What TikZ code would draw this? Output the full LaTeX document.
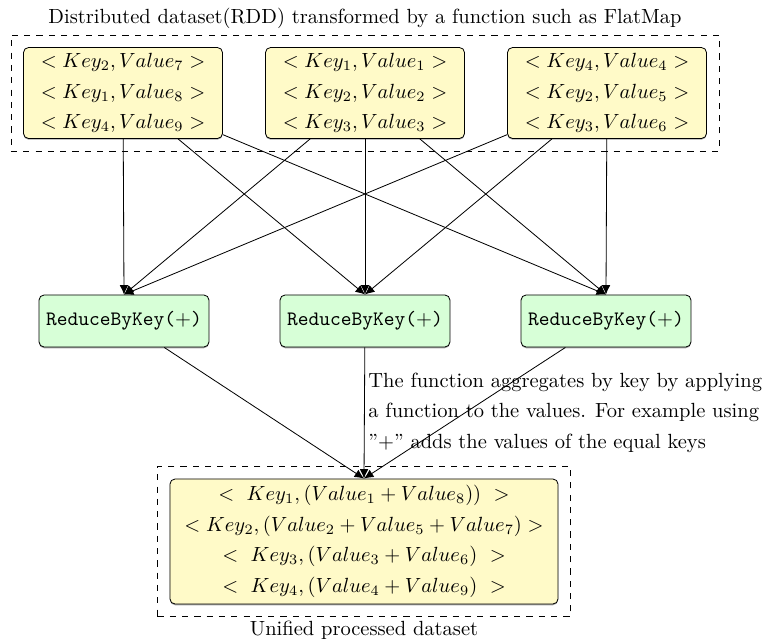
\documentclass[tikz,border=0pt]{standalone}
\usetikzlibrary{arrows.meta,fit,shadows}
\definecolor{pairfill}{RGB}{255,250,200}
\definecolor{reducefill}{RGB}{215,255,215}

\begin{document}
\begin{tikzpicture}[x=0.4878pt,y=-0.4878pt,
  pairbox/.style={draw, rounded corners=2.5pt, fill=pairfill, align=center,
    minimum width=97.1pt, minimum height=44.4pt, inner sep=2pt,
    drop shadow={shadow xshift=0pt, shadow yshift=-0.6pt, opacity=0.35, fill=black}},
  reducebox/.style={draw, rounded corners=2.5pt, fill=reducefill,
    minimum width=82.9pt, minimum height=25.4pt, inner sep=2pt,
    drop shadow={shadow xshift=0pt, shadow yshift=-0.6pt, opacity=0.35, fill=black}},
  groupbox/.style={draw, dashed, inner sep=5.9pt},
  flow/.style={-{Latex[length=4.6pt,width=4.2pt]}},
]
\useasboundingbox (0,0) rectangle (768,643);

% key/value pairs produced by the transformation
\node[pairbox] (p1) at (123,93)
  {$<Key_2,Value_7>$\\[2.9pt]$<Key_1,Value_8>$\\[2.9pt]$<Key_4,Value_9>$};
\node[pairbox] (p2) at (365,93)
  {$<Key_1,Value_1>$\\[2.9pt]$<Key_2,Value_2>$\\[2.9pt]$<Key_3,Value_3>$};
\node[pairbox] (p3) at (607,93)
  {$<Key_4,Value_4>$\\[2.9pt]$<Key_2,Value_5>$\\[2.9pt]$<Key_3,Value_6>$};
\node[groupbox, fit=(p1)(p2)(p3)] (src) {};
\node (title) at (365,18) {Distributed dataset(RDD) transformed by a function such as FlatMap};

% reducers
\node[reducebox] (r1) at (124,321) {\texttt{ReduceByKey($+$)}};
\node[reducebox] (r2) at (365,321) {\texttt{ReduceByKey($+$)}};
\node[reducebox] (r3) at (606,321) {\texttt{ReduceByKey($+$)}};

% merged result
\node[pairbox, minimum width=189.3pt, minimum height=61pt] (res) at (364,541.5)
  {$<\ Key_1,(Value_1+Value_8))\ >$\\[2.9pt]
   $<Key_2,(Value_2+Value_5+Value_7)>$\\[2.9pt]
   $<\ Key_3,(Value_3+Value_6)\ >$\\[2.9pt]
   $<\ Key_4,(Value_4+Value_9)\ >$};
\node[groupbox, fit=(res)] (dst) {};
\node (caption) at (364,630) {Unified processed dataset};

% explanation
\node[anchor=west, align=left, inner sep=0pt] (note) at (368,412.5)
  {The function aggregates by key by applying\\[2.9pt]
   a function to the values. For example using\\[2.9pt]
   ''$+$'' adds the values of the equal keys};

% shuffle: every partition feeds every reducer
\foreach \s in {p1,p2,p3}
  \foreach \t in {r1,r2,r3}
    \draw[flow] (\s) -- (\t.north);

% reducers feed the unified dataset
\foreach \t in {r1,r2,r3}
  \draw[flow] (\t) -- (res.north);
\end{tikzpicture}
\end{document}
